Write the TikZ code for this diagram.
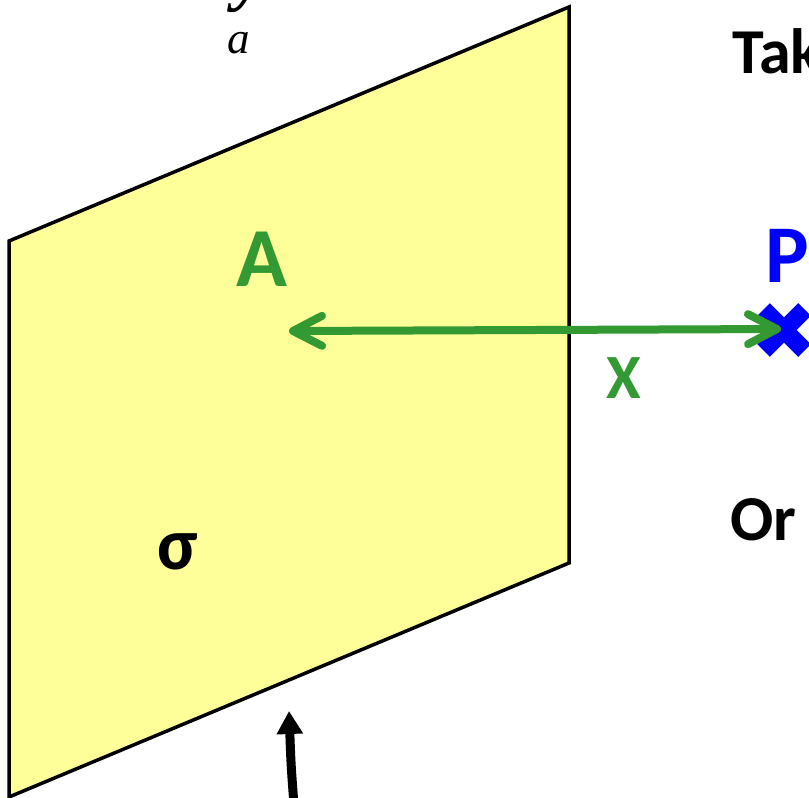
\documentclass[tikz,border=0pt]{standalone}
\usepackage{fontspec}
\setmainfont{Carlito}
\newfontfamily\serifit{Liberation Serif}
\newfontfamily\serifbi{Liberation Serif Bold Italic}
\usetikzlibrary{arrows.meta}
\definecolor{planeyellow}{HTML}{FFFF99}
\definecolor{vecgreen}{HTML}{339933}
\definecolor{ptblue}{HTML}{0000FF}
\tikzset{
  lbl/.style={anchor=base west, inner sep=0pt, font=\bfseries},
  vec/.style={draw=vecgreen, line width=8pt, line cap=round,
    {Straight Barb[length=29pt,width=30pt,line cap=round,line join=round]}-{Straight Barb[length=29pt,width=30pt,line cap=round,line join=round]}},
  crossbar/.style={draw=ptblue, line width=18pt},
  bigarrow/.style={draw=black, line width=9pt, -{Triangle[length=23pt,width=25pt]}}
}
\begin{document}
\begin{tikzpicture}[x=1pt,y=-1pt]
\useasboundingbox (0,0) rectangle (809,798);
\clip (0,0) rectangle (809,798);
\fill[white] (0,0) rectangle (809,798);
% plane
\draw[fill=planeyellow, line width=3.5pt, line join=miter] (9,241) -- (569,7) -- (569,563) -- (9,797) -- cycle;
% labels
\node[lbl, font=\fontsize{84}{84}\selectfont\bfseries, text=vecgreen] (labA) at (236,286) {A};
\node[lbl, font=\fontsize{63}{63}\selectfont\bfseries, text=vecgreen] (labX) at (606,398) {X};
\node[lbl, font=\fontsize{74}{74}\selectfont\bfseries] (labS) at (157,569) {σ};
\node[lbl, font=\fontsize{82}{82}\selectfont\bfseries, text=ptblue] (labP) at (765,282) {P};
\node[lbl, font=\fontsize{64}{64}\selectfont\bfseries] (labT) at (732,73) {Tak};
\node[lbl, font=\fontsize{64}{64}\selectfont\bfseries] (labO) at (730,540) {Or};
\node[anchor=base west, inner sep=0pt, font=\fontsize{45}{45}\selectfont\serifit\itshape] (laba) at (227,53) {a};
\node[anchor=base west, inner sep=0pt, font=\fontsize{70}{70}\selectfont\serifbi] (laby) at (234,-3) {y};
% point P cross
\coordinate (pP) at (784,330);
\draw[crossbar] (pP) ++(-20.5,-20.5) -- ++(41,41);
\draw[crossbar] (pP) ++(-20.5,20.5) -- ++(41,-41);
% green vector
\coordinate (pA) at (289,331);
\coordinate (pPtip) at (781,329);
\draw[vec] (pA) -- (pPtip);
% bottom arrow
\coordinate (bstart) at (294,805);
\coordinate (btip) at (289,711);
\draw[bigarrow] (bstart) .. controls (291,765) .. (btip);
\end{tikzpicture}
\end{document}
